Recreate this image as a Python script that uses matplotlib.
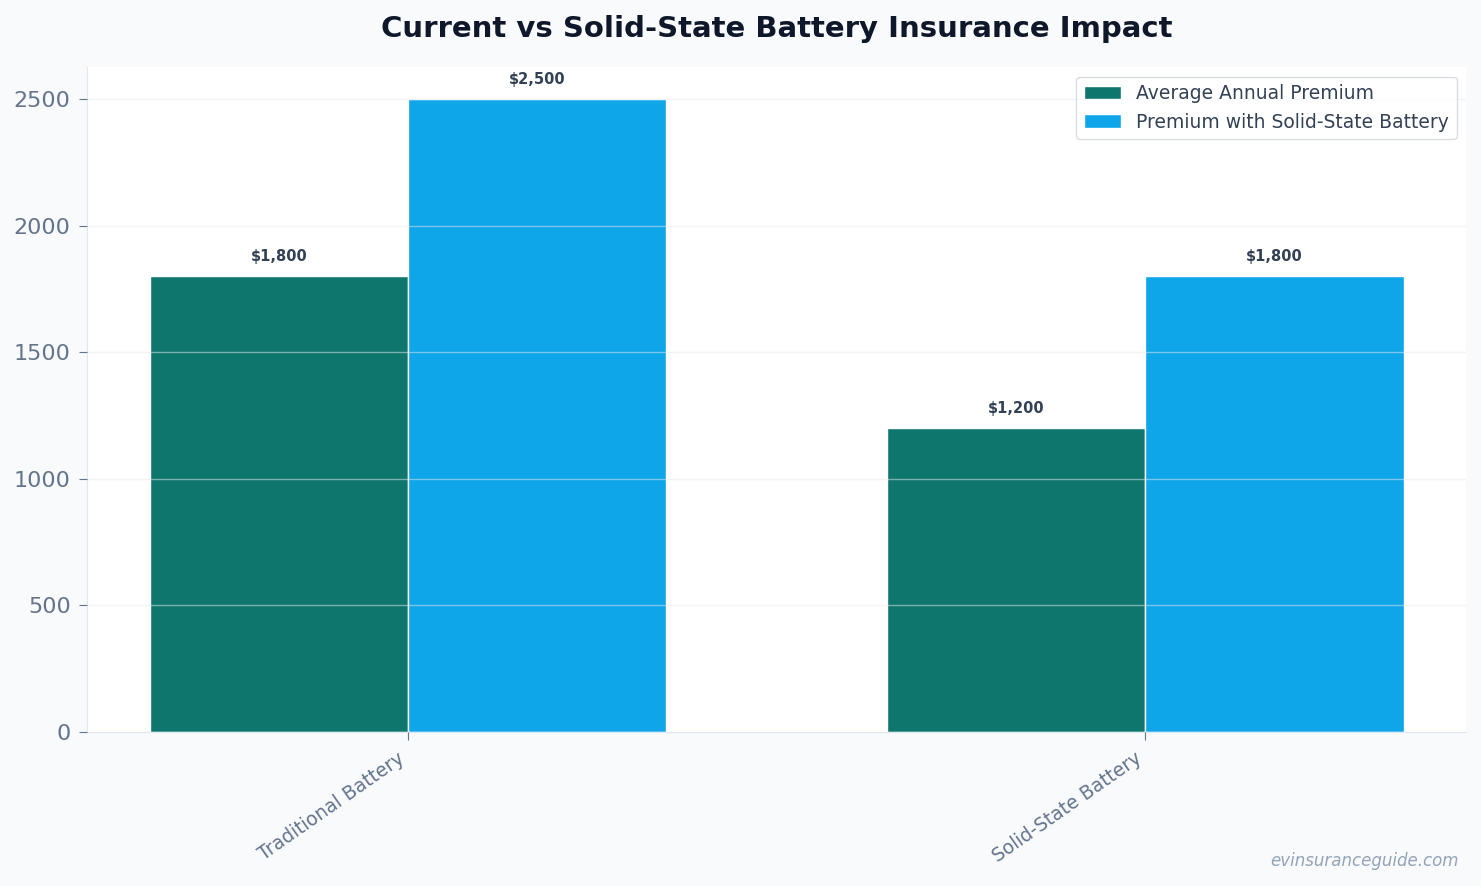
import matplotlib
matplotlib.use("Agg")
import matplotlib.pyplot as plt
import numpy as np

# dados do gráfico
categories = ["Traditional Battery", "Solid-State Battery"]
avg_premium = [1800, 1200]
solid_premium = [2500, 1800]
series_names = ["Average Annual Premium", "Premium with Solid-State Battery"]

fig, ax = plt.subplots(figsize=(14.81, 8.86), dpi=100)
fig.patch.set_facecolor("#f8fafc")
ax.set_facecolor("white")

x = np.arange(len(categories))
w = 0.35
b1 = ax.bar(x - w / 2, avg_premium, w, color="#0f766e", edgecolor="white", linewidth=1, label=series_names[0])
b2 = ax.bar(x + w / 2, solid_premium, w, color="#0ea5e9", edgecolor="white", linewidth=1, label=series_names[1])

# rótulos em cima das barras
for bars in (b1, b2):
    for r in bars:
        h = r.get_height()
        ax.annotate(f"${h:,.0f}", (r.get_x() + r.get_width() / 2, h), xytext=(0, 8.5),
                    textcoords="offset points", ha="center", va="bottom",
                    fontsize=10.5, fontweight="bold", color="#334155")

ax.set_title("Current vs Solid-State Battery Insurance Impact", fontsize=21, fontweight="bold",
             color="#0f172a", pad=22)
ax.set_xticks(x)
ax.set_xticklabels(categories, rotation=35, ha="right", fontsize=13.5, color="#64748b")
ax.tick_params(axis="y", labelsize=16, colors="#64748b", length=6, pad=6)
ax.tick_params(axis="x", colors="#64748b", length=6, pad=6)
ax.grid(axis="y", color="#e2e8f0", alpha=0.5, linewidth=1)
ax.set_axisbelow(False)
for s in ["top", "right"]:
    ax.spines[s].set_visible(False)
for s in ["left", "bottom"]:
    ax.spines[s].set_color("#e2e8f0")

leg = ax.legend(loc="upper right", fontsize=13.5, frameon=True, labelcolor="#334155")
leg.get_frame().set_edgecolor("#d1d5db")

fig.text(0.985, 0.018, "evinsuranceguide.com", ha="right", va="bottom", fontsize=12,
         style="italic", color="#94a3b8")

plt.subplots_adjust(left=0.059, right=0.99, top=0.924, bottom=0.174)
plt.savefig("out.png", dpi=100, facecolor=fig.get_facecolor())
